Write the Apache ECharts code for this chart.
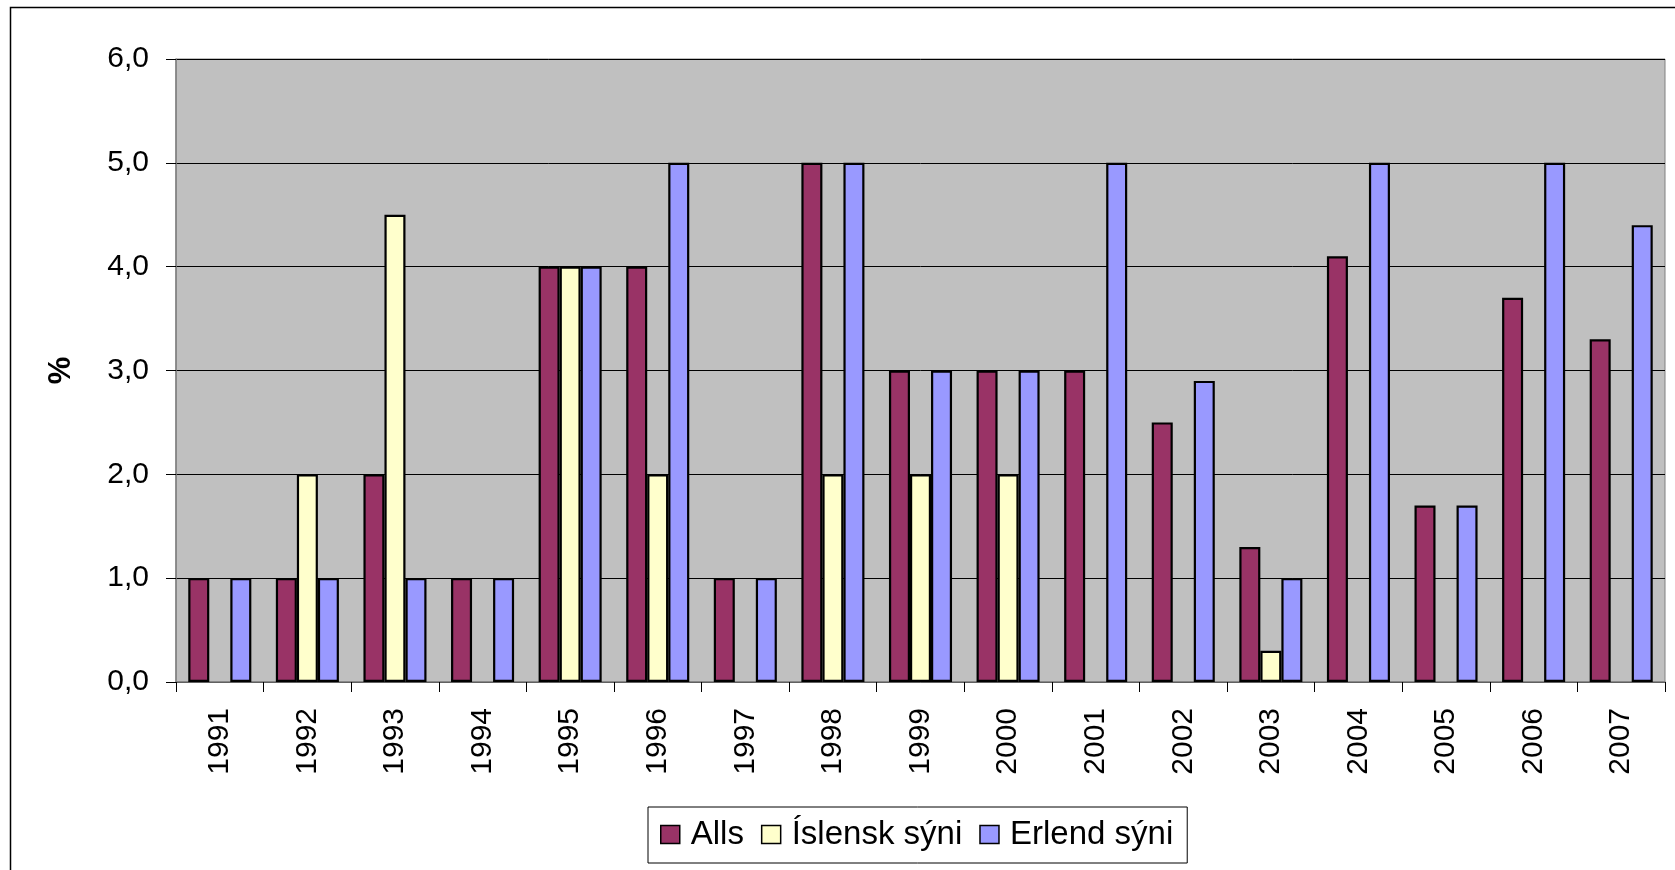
<!DOCTYPE html>
<html>
<head>
<meta charset="utf-8">
<script src="https://cdn.jsdelivr.net/npm/echarts@6/dist/echarts.min.js"></script>
<style>
  html, body { margin: 0; padding: 0; background: #fff; }
</style>
</head>
<body>
<div id="chart" style="width:1675px;height:870px;"></div>
<script>
const years = ['1991', '1992', '1993', '1994', '1995', '1996', '1997', '1998', '1999',
  '2000', '2001', '2002', '2003', '2004', '2005', '2006', '2007']
const alls = [1, 1, 2, 1, 4, 4, 1, 5, 3, 3, 3, 2.5, 1.3, 4.1, 1.7, 3.7, 3.3]
const islensk = [null, 2, 4.5, null, 4, 2, null, 2, 2, 2, null, null, 0.3, null, null, null, null]
const erlend = [1, 1, 1, 1, 4, 5, 1, 5, 3, 3, 5, 2.9, 1, 5, 1.7, 5, 4.4]

const font = 'Liberation Sans'

const mkSeries = (name, data, color) => ({
  name: name,
  type: 'bar',
  data: data,
  barGap: '0%',
  barCategoryGap: '28%',
  itemStyle: { color: color, borderColor: '#000', borderWidth: 2.2 },
  emphasis: { disabled: true },
})

const chart = echarts.init(document.getElementById('chart'))
chart.setOption({
  animation: false,
  textStyle: { fontFamily: font },
  graphic: [
    {
      type: 'rect',
      shape: { x: 10.5, y: 7.5, width: 1700, height: 900 },
      style: { fill: 'none', stroke: '#000', lineWidth: 1.5 },
      silent: true,
    },
  ],
  grid: {
    left: 176, top: 59, right: 10, bottom: 188,
    show: true,
    backgroundColor: '#c0c0c0',
    borderColor: '#808080',
    borderWidth: 1,
  },
  legend: {
    left: 648, top: 807,
    itemWidth: 19, itemHeight: 18, itemGap: 17,
    padding: [11, 14, 12, 12],
    borderColor: '#000', borderWidth: 1,
    textStyle: { fontSize: 33, color: '#000', fontFamily: font, padding: [0, 0, 0, 6] },
    icon: 'rect',
    itemStyle: { borderColor: '#000', borderWidth: 1.5 },
    data: ['Alls', 'Íslensk sýni', 'Erlend sýni'],
  },
  xAxis: {
    type: 'category',
    data: years,
    boundaryGap: true,
    axisLine: { lineStyle: { color: '#808080', width: 1.5 } },
    axisTick: { show: true, length: 10, lineStyle: { color: '#000' } },
    axisLabel: { rotate: 90, margin: 26, fontSize: 30, color: '#000', fontFamily: font },
  },
  yAxis: {
    type: 'value',
    min: 0, max: 6, interval: 1,
    name: '%',
    nameLocation: 'middle',
    nameGap: 99,
    nameTextStyle: { fontSize: 31, fontWeight: 'bold', color: '#000', fontFamily: font },
    axisLine: { show: true, lineStyle: { color: '#808080', width: 1.5 } },
    axisTick: { show: true, length: 10, lineStyle: { color: '#000' } },
    splitLine: { show: true, lineStyle: { color: '#000', width: 1 } },
    axisLabel: {
      margin: 27, fontSize: 30, color: '#000', fontFamily: font,
      formatter: (v) => v.toFixed(1).replace('.', ','),
    },
  },
  series: [
    mkSeries('Alls', alls, '#993366'),
    mkSeries('Íslensk sýni', islensk, '#ffffcc'),
    mkSeries('Erlend sýni', erlend, '#9999ff'),
  ],
})
</script>
</body>
</html>
